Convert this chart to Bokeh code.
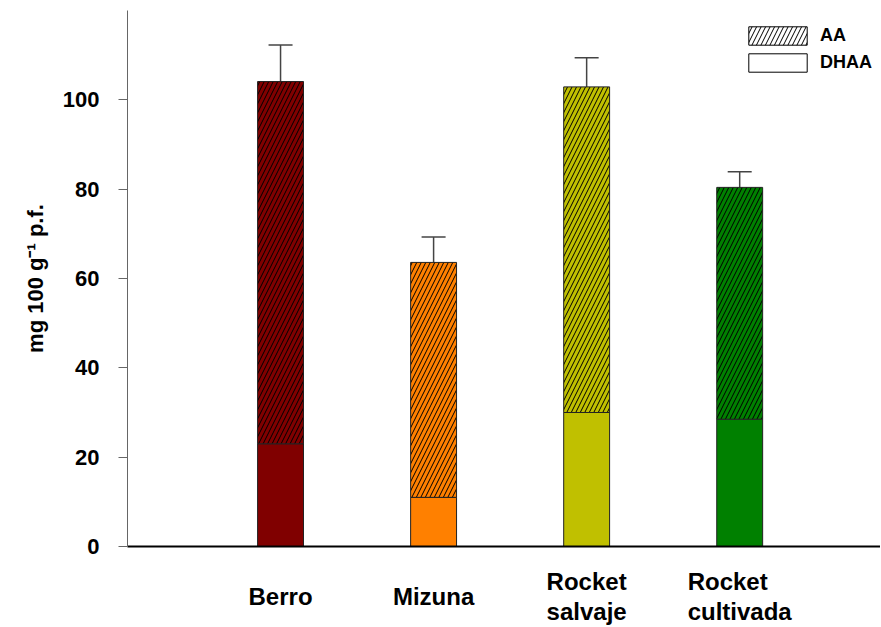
from bokeh.plotting import figure
from bokeh.layouts import column
from bokeh.models import (FixedTicker, Legend, LegendItem, Whisker, ColumnDataSource,
                          TeeHead, Range1d, LabelSet)
from bokeh.core.properties import value
from bokeh.embed import file_html
from bokeh.resources import INLINE

# ---- data ----
categories = ["Berro", "Mizuna", "Rocket\nsalvaje", "Rocket\ncultivada"]
positions = [1, 2, 3, 4]
dhaa = [23.0, 11.0, 30.0, 28.5]
aa = [81.1, 52.6, 72.9, 51.9]
err = [8.2, 5.7, 6.5, 3.5]
colors = ["#800000", "#FF8000", "#C0C000", "#008000"]
y_ticks = [0, 20, 40, 60, 80, 100]
legend_labels = ["AA", "DHAA"]

total = [d + a for d, a in zip(dhaa, aa)]
upper = [t + e for t, e in zip(total, err)]

src = ColumnDataSource(dict(x=positions, dhaa=dhaa, total=total, upper=upper,
                            color=colors, name=categories,
                            label_y=[30] * len(positions)))

FONT = "Liberation Sans"

p = figure(width=880, height=558, output_backend="svg", toolbar_location=None,
           x_range=Range1d(0, 4.92), y_range=Range1d(0, 120),
           min_border_left=127, min_border_top=10, min_border_right=0, min_border_bottom=12)
p.outline_line_color = None
p.xgrid.visible = False
p.ygrid.visible = False

HATCH_SCALE = 9

# bars
p.vbar(x="x", bottom=0, top="dhaa", width=0.3, fill_color="color",
       line_color="#222222", line_width=1, source=src)
p.vbar(x="x", bottom="dhaa", top="total", width=0.3, fill_color="color",
       line_color="#222222", line_width=1, hatch_pattern="/", hatch_color="black",
       hatch_scale=HATCH_SCALE, hatch_weight=1, source=src)

# error bars (upper only)
w = Whisker(source=src, base="x", lower="total", upper="upper", dimension="height",
            line_color="#444444", line_width=1.5,
            upper_head=TeeHead(size=24, line_color="#444444", line_width=1.5),
            lower_head=None)
p.add_layout(w)

# y axis
p.yaxis.ticker = FixedTicker(ticks=y_ticks)
p.yaxis.minor_tick_line_color = None
p.yaxis.major_tick_out = 9
p.yaxis.major_tick_in = 0
p.yaxis.axis_line_color = "#666666"
p.yaxis.major_tick_line_color = "#666666"
p.yaxis.major_label_text_font = FONT
p.yaxis.major_label_text_font_style = "bold"
p.yaxis.major_label_text_font_size = "22px"
p.yaxis.major_label_text_color = "black"
p.yaxis.major_label_standoff = 19
p.yaxis.axis_label = "mg 100 g\u207b\u00b9 p.f."
p.yaxis.axis_label_text_font = FONT
p.yaxis.axis_label_text_font_style = "bold"
p.yaxis.axis_label_text_font_size = "22px"
p.yaxis.axis_label_text_color = "black"
p.yaxis.axis_label_standoff = 12

# x axis: plain baseline only
p.xaxis.ticker = FixedTicker(ticks=[])
p.xaxis.minor_tick_line_color = None
p.xaxis.major_tick_line_color = None
p.xaxis.major_label_text_font_size = "0px"
p.xaxis.axis_line_color = "black"
p.xaxis.axis_line_width = 2

# legend with placeholder (NaN) renderers, white boxes as in the original key
nan = float("nan")
leg_aa = p.vbar(x=[nan], top=[nan], width=0.3, fill_color="white", line_color="black",
                hatch_pattern="/", hatch_color="black", hatch_scale=HATCH_SCALE, hatch_weight=1)
leg_dh = p.vbar(x=[nan], top=[nan], width=0.3, fill_color="white", line_color="black")
legend = Legend(items=[LegendItem(label=legend_labels[0], renderers=[leg_aa]),
                       LegendItem(label=legend_labels[1], renderers=[leg_dh])],
                location=(614, 472), glyph_width=73, glyph_height=23, spacing=4,
                padding=0, margin=0, border_line_color=None, background_fill_alpha=0,
                label_text_font=FONT, label_text_font_style="bold",
                label_text_color="black",
                label_text_font_size="18px", label_standoff=6)
p.add_layout(legend)

# strip below for the category labels (shares the x range)
p2 = figure(width=880, height=68, output_backend="svg", toolbar_location=None,
            x_range=p.x_range, y_range=Range1d(0, 1),
            min_border_left=127, min_border_top=0, min_border_right=0, min_border_bottom=0)
p2.outline_line_color = None
p2.xgrid.visible = False
p2.ygrid.visible = False
p2.xaxis.visible = False
p2.yaxis.visible = False

labels = LabelSet(x="x", y="label_y", y_units="screen", text="name", source=src,
                  text_align="center", text_baseline="middle",
                  text_font=value(FONT), text_font_style="bold", text_font_size="24px",
                  text_color="black", text_line_height=1.1)
p2.add_layout(labels)

layout = column(p, p2, spacing=0)
open("out.html", "w").write(file_html(layout, INLINE))
